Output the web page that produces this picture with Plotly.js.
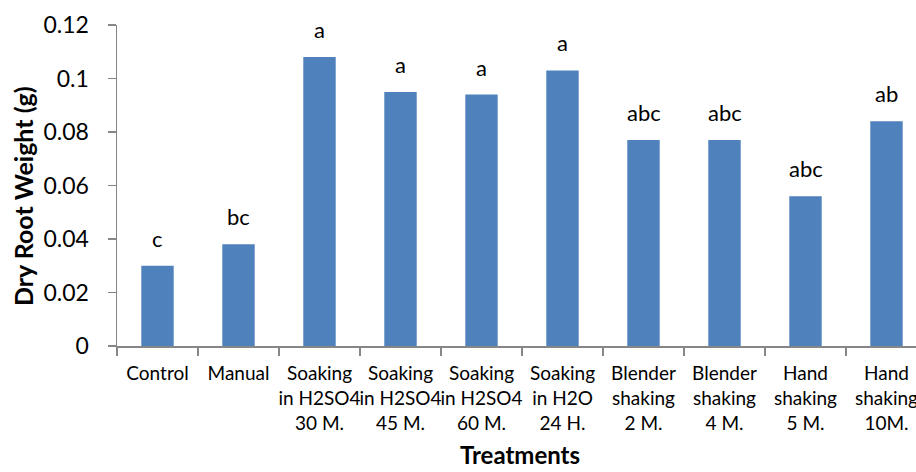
<!DOCTYPE html>
<html><head><meta charset="utf-8">
<script src="https://cdn.plot.ly/plotly-3.0.1.min.js"></script>
<style>html,body{margin:0;padding:0;overflow:hidden;background:#fff}</style>
</head><body>
<div id="chart" style="width:940px;height:472px"></div>
<script>
const categories = ["Control","Manual","Soaking<br>in H2SO4<br>30 M.","Soaking<br>in H2SO4<br>45 M.","Soaking<br>in H2SO4<br>60 M.","Soaking<br>in H2O<br>24 H.","Blender<br>shaking<br>2 M.","Blender<br>shaking<br>4 M.","Hand<br>shaking<br>5 M.","Hand<br>shaking<br>10M."];
const values = [0.030,0.038,0.108,0.095,0.094,0.103,0.077,0.077,0.056,0.084];
const letters = ["c","bc","a","a","a","a","abc","abc","abc","ab"];
const yTicks = [0,0.02,0.04,0.06,0.08,0.1,0.12];
const yTickText = ["0","0.02","0.04","0.06","0.08","0.1","0.12"];
const xTitle = "Treatments";
const yTitle = "Dry Root Weight (g)";

const font = "Lato, 'Open Sans', sans-serif";
const trace = {type:"bar", x:categories, y:values, marker:{color:"#4F81BD"}, hoverinfo:"skip"};
const annotations = categories.map((c,i)=>({x:c, y:values[i], text:letters[i], showarrow:false, yanchor:"bottom", yshift:12, font:{family:font,size:22,color:"#000"}}));
const L=117, W=810, T=25, H=321;
annotations.push({xref:"paper",yref:"paper",x:(520-L)/W,y:-(470-T-H)/H,xanchor:"center",yanchor:"bottom",borderpad:0,text:"<b>"+xTitle+"</b>",showarrow:false,font:{family:font,size:24,color:"#000"}});
annotations.push({xref:"paper",yref:"paper",x:(23-L)/W,y:(T+H-196)/H,xanchor:"center",yanchor:"middle",textangle:-90,text:"<b>"+yTitle+"</b>",showarrow:false,font:{family:font,size:25,color:"#000"}});
Plotly.newPlot("chart",[trace],{
  width:940,height:472,
  margin:{l:L,r:940-L-W,t:T,b:472-T-H},
  bargap:0.6,
  showlegend:false,
  paper_bgcolor:"#fff",plot_bgcolor:"#fff",
  font:{family:font,color:"#000"},
  xaxis:{type:"category",showline:true,linecolor:"#868686",linewidth:1.5,ticks:"outside",tickson:"boundaries",ticklen:8,tickcolor:"#868686",tickwidth:1.5,tickangle:0,tickfont:{family:font,size:19,color:"#000"},ticklabelstandoff:10,range:[-0.5,9.5]},
  yaxis:{range:[0,0.12],tickvals:yTicks,ticktext:yTickText,showgrid:false,zeroline:false,showline:true,linecolor:"#868686",linewidth:1.5,ticks:"outside",ticklen:8,tickcolor:"#868686",tickwidth:1.5,tickfont:{family:font,size:23,color:"#000"},ticklabelstandoff:14},
  annotations:annotations
},{displayModeBar:false,staticPlot:true});
</script>
</body></html>
